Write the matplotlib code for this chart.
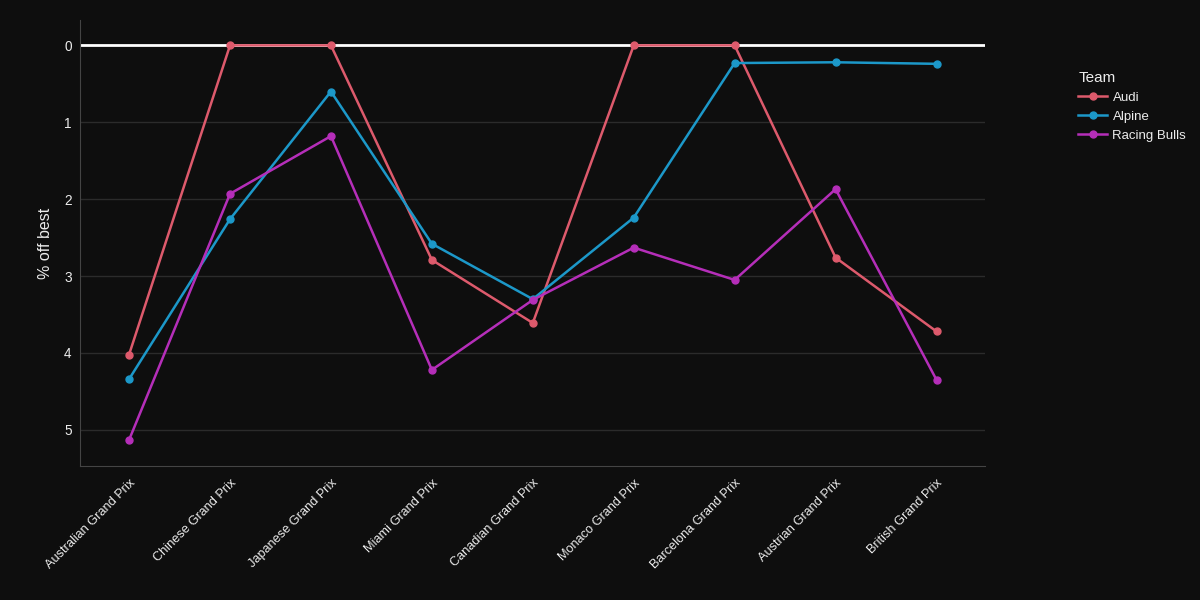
import numpy as np
import matplotlib
matplotlib.use("Agg")
import matplotlib.pyplot as plt

plt.rcParams['font.family'] = ['Liberation Sans', 'DejaVu Sans']

races = ["Australian Grand Prix", "Chinese Grand Prix", "Japanese Grand Prix",
         "Miami Grand Prix", "Canadian Grand Prix", "Monaco Grand Prix",
         "Barcelona Grand Prix", "Austrian Grand Prix", "British Grand Prix"]
audi = [4.02, 0.0, 0.0, 2.79, 3.61, 0.0, 0.0, 2.76, 3.72]
alpine = [4.34, 2.26, 0.60, 2.58, 3.30, 2.24, 0.23, 0.22, 0.24]
racing_bulls = [5.13, 1.93, 1.18, 4.22, 3.31, 2.63, 3.05, 1.87, 4.35]

bg = '#0e0e0e'
fig = plt.figure(figsize=(12, 6), dpi=100, facecolor=bg)
ax = fig.add_axes([0.0667, 0.2233, 0.7541, 0.7434], facecolor=bg)

x = np.arange(len(races))
ax.plot(x, audi, color='#dd5a6c', lw=1.8, marker='o', ms=5, label='Audi', zorder=3)
ax.plot(x, alpine, color='#1c98c9', lw=1.8, marker='o', ms=5, label='Alpine', zorder=3)
ax.plot(x, racing_bulls, color='#b52eb9', lw=1.8, marker='o', ms=5, label='Racing Bulls', zorder=3)

ax.axhline(0, color='white', lw=2, zorder=2)

ax.set_xlim(-0.486, 8.48)
ax.set_ylim(5.47, -0.33)
ax.set_yticks([0, 1, 2, 3, 4, 5])
ax.set_xticks(x)
ax.set_xticklabels(races, rotation=45, ha='right', rotation_mode='anchor')
ax.grid(axis='y', color='#2b2b2b', lw=1)
ax.set_axisbelow(True)
ax.tick_params(colors='#ececec', labelsize=9.8, length=0)
ax.tick_params(axis='x', pad=8, labelsize=9.2)
ax.tick_params(axis='y', pad=6)

for s in ['top', 'right']:
    ax.spines[s].set_visible(False)
for s in ['left', 'bottom']:
    ax.spines[s].set_color('#444444')

ax.set_ylabel('% off best', color='#ececec', fontsize=11.5, labelpad=8)

leg = ax.legend(title='Team', loc='upper left', bbox_to_anchor=(1.103, 0.885),
                frameon=False, fontsize=9.5, title_fontsize=11,
                labelcolor='#ececec', handlelength=2.2, handletextpad=0.4,
                labelspacing=0.5, borderpad=0, borderaxespad=0)
leg.get_title().set_color('#ececec')
leg._legend_box.align = 'left'

fig.savefig('out.png', dpi=100, facecolor=bg)
